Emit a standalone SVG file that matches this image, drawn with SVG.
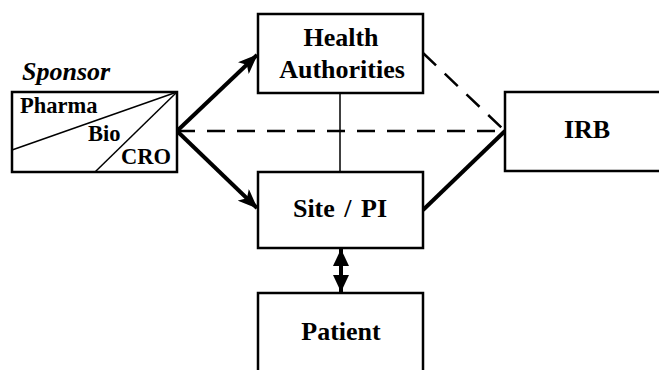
<svg xmlns="http://www.w3.org/2000/svg" width="659" height="370" viewBox="0 0 659 370">
<style>
.box{fill:#fff;stroke:#000;stroke-width:2.5}
.t{font-family:"Liberation Serif","Times New Roman",serif;font-weight:bold;font-size:26px;fill:#000}
.s{font-family:"Liberation Serif","Times New Roman",serif;font-weight:bold;font-size:22.5px;fill:#000}
.thin{stroke:#000;stroke-width:1.5;fill:none}
.thick{stroke:#000;stroke-width:4;fill:none}
.dash{stroke:#000;stroke-width:2.5;fill:none;stroke-dasharray:18 12}
</style>
<defs>
<marker id="ah" markerUnits="userSpaceOnUse" markerWidth="20" markerHeight="16" refX="19" refY="8" orient="auto" viewBox="0 0 20 16">
<path d="M0,0 L20,8 L0,16 L5,8 Z" fill="#000"/>
</marker>
<marker id="dh" markerUnits="userSpaceOnUse" markerWidth="17" markerHeight="16" refX="17" refY="8" orient="auto-start-reverse" viewBox="0 0 17 16">
<path d="M0,0 L17,8 L0,16 Z" fill="#000"/>
</marker>
</defs>
<g id="connectors">
<line class="thin" x1="340" y1="93" x2="340" y2="172"/>
<line class="dash" x1="423" y1="53" x2="505" y2="131"/>
<line class="dash" x1="177" y1="131" x2="505" y2="131"/>
<line class="thick" x1="423" y1="210" x2="505" y2="131"/>
<line class="thick" x1="177" y1="131" x2="257" y2="55" marker-end="url(#ah)"/>
<line class="thick" x1="177" y1="131" x2="257" y2="208" marker-end="url(#ah)"/>
<line class="thick" x1="341" y1="249" x2="341" y2="292" marker-start="url(#dh)" marker-end="url(#dh)"/>
</g>
<g id="sponsor">
<text x="22" y="80" style="font-family:'Liberation Serif','Times New Roman',serif;font-weight:bold;font-style:italic;font-size:26px">Sponsor</text>
<rect class="box" x="12" y="92" width="165" height="80"/>
<line class="thin" x1="12" y1="150" x2="177" y2="92"/>
<line class="thin" x1="95" y1="172" x2="177" y2="92"/>
<text class="s" x="20" y="113">Pharma</text>
<text class="s" x="88" y="141">Bio</text>
<text class="s" x="121" y="164">CRO</text>
</g>
<g id="health">
<rect class="box" x="258" y="14" width="165" height="79"/>
<text class="t" x="341" y="46" text-anchor="middle">Health</text>
<text class="t" x="342" y="78" text-anchor="middle">Authorities</text>
</g>
<g id="site">
<rect class="box" x="258" y="172" width="165" height="76"/>
<text class="t" x="340" y="217" text-anchor="middle" word-spacing="3">Site / PI</text>
</g>
<g id="patient">
<rect class="box" x="258" y="293" width="165" height="90"/>
<text class="t" x="341" y="340" text-anchor="middle">Patient</text>
</g>
<g id="irb">
<rect class="box" x="505" y="92" width="170" height="79"/>
<text class="t" x="587" y="138" text-anchor="middle">IRB</text>
</g>
</svg>
